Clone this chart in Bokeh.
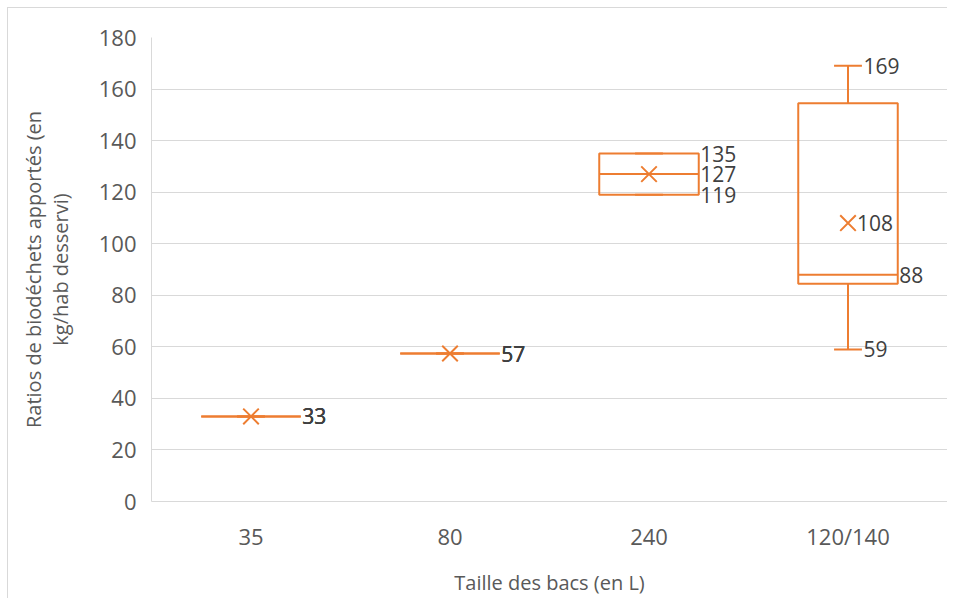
from bokeh.plotting import figure
from bokeh.models import Range1d, FixedTicker, ColumnDataSource
from bokeh.core.properties import value
from bokeh.embed import file_html
from bokeh.resources import INLINE

categories = ["35", "80", "240", "120/140"]
mins = [33, 57.4, 119, 59]
q1s = [33, 57.4, 119, 84.5]
medians = [33, 57.4, 127, 88]
q3s = [33, 57.4, 135, 154.5]
maxs = [33, 57.4, 135, 169]
means = [33, 57.4, 127, 108]
y_ticks = [0, 20, 40, 60, 80, 100, 120, 140, 160, 180]

ORANGE = "#ED7D31"
GRID = "#d9d9d9"
FONT = "Open Sans"

xs = [i + 0.5 for i in range(len(categories))]
BOX_HALF = 0.25
CAP_HALF = 0.07
MARK_OFF = 0.045
GAP = 0.008

p = figure(frame_width=796, frame_height=464, x_range=Range1d(0, 4), y_range=Range1d(0, 180),
           output_backend="svg", toolbar_location=None,
           min_border_left=143, min_border_right=0, min_border_top=29, min_border_bottom=10)
p.styles = {"margin-left": "7px", "margin-top": "7px",
            "border-left": "1px solid #d9d9d9", "border-top": "1px solid #d9d9d9"}
p.outline_line_color = None
p.background_fill_color = "white"

src = ColumnDataSource(dict(x=xs, left=[x - BOX_HALF for x in xs], right=[x + BOX_HALF for x in xs],
                            cl=[x - CAP_HALF for x in xs], cr=[x + CAP_HALF for x in xs],
                            mn=mins, q1=q1s, med=medians, q3=q3s, mx=maxs, mean=means))

# whiskers
p.segment(x0="x", y0="q3", x1="x", y1="mx", source=src, line_color=ORANGE, line_width=2)
p.segment(x0="x", y0="mn", x1="x", y1="q1", source=src, line_color=ORANGE, line_width=2)
# caps
p.segment(x0="cl", y0="mx", x1="cr", y1="mx", source=src, line_color=ORANGE, line_width=2)
p.segment(x0="cl", y0="mn", x1="cr", y1="mn", source=src, line_color=ORANGE, line_width=2)
# boxes
p.quad(left="left", right="right", bottom="q1", top="q3", source=src,
       fill_color=None, line_color=ORANGE, line_width=2)
# medians
p.segment(x0="left", y0="med", x1="right", y1="med", source=src, line_color=ORANGE, line_width=2)
# means
p.scatter(x="x", y="mean", source=src, marker="x", size=22, line_color=ORANGE, line_width=2)

# data labels
lx, ly, lt = [], [], []
for i, x in enumerate(xs):
    for v in [maxs[i], medians[i], mins[i]]:
        off = BOX_HALF if q1s[i] <= v <= q3s[i] else CAP_HALF
        lx.append(x + off + GAP)
        ly.append(v)
        lt.append(f"{v:.0f}")
    if round(means[i]) != round(medians[i]):
        lx.append(x + MARK_OFF)
        ly.append(means[i])
        lt.append(f"{means[i]:.0f}")
p.text(x=lx, y=ly, text=lt, text_font=value(FONT), text_font_size="21px",
       text_color="#404040", text_baseline="middle", text_align="left")

# axes
p.xgrid.grid_line_color = None
p.ygrid.grid_line_color = GRID
p.ygrid.ticker = FixedTicker(ticks=y_ticks)
p.yaxis.ticker = FixedTicker(ticks=y_ticks)
p.xaxis.ticker = FixedTicker(ticks=xs)
p.xaxis.major_label_overrides = {x: c for x, c in zip(xs, categories)}

for ax in (p.xaxis[0], p.yaxis[0]):
    ax.axis_line_color = GRID
    ax.major_tick_line_color = None
    ax.minor_tick_line_color = None
    ax.major_label_text_font = FONT
    ax.major_label_text_font_size = "22px"
    ax.major_label_text_color = "#595959"
    ax.axis_label_text_font = FONT
    ax.axis_label_text_font_size = "20px"
    ax.axis_label_text_font_style = "normal"
    ax.axis_label_text_color = "#595959"

p.yaxis.axis_label = "Ratios de biodéchets apportés (en\nkg/hab desservi)"
p.yaxis.axis_label_text_line_height = 1.0
p.yaxis.major_label_standoff = 9
p.yaxis.axis_label_standoff = 22
p.xaxis.axis_label = "Taille des bacs (en L)"
p.xaxis.major_label_standoff = 13
p.xaxis.axis_label_standoff = 15

open("out.html", "w").write(file_html(p, INLINE))
